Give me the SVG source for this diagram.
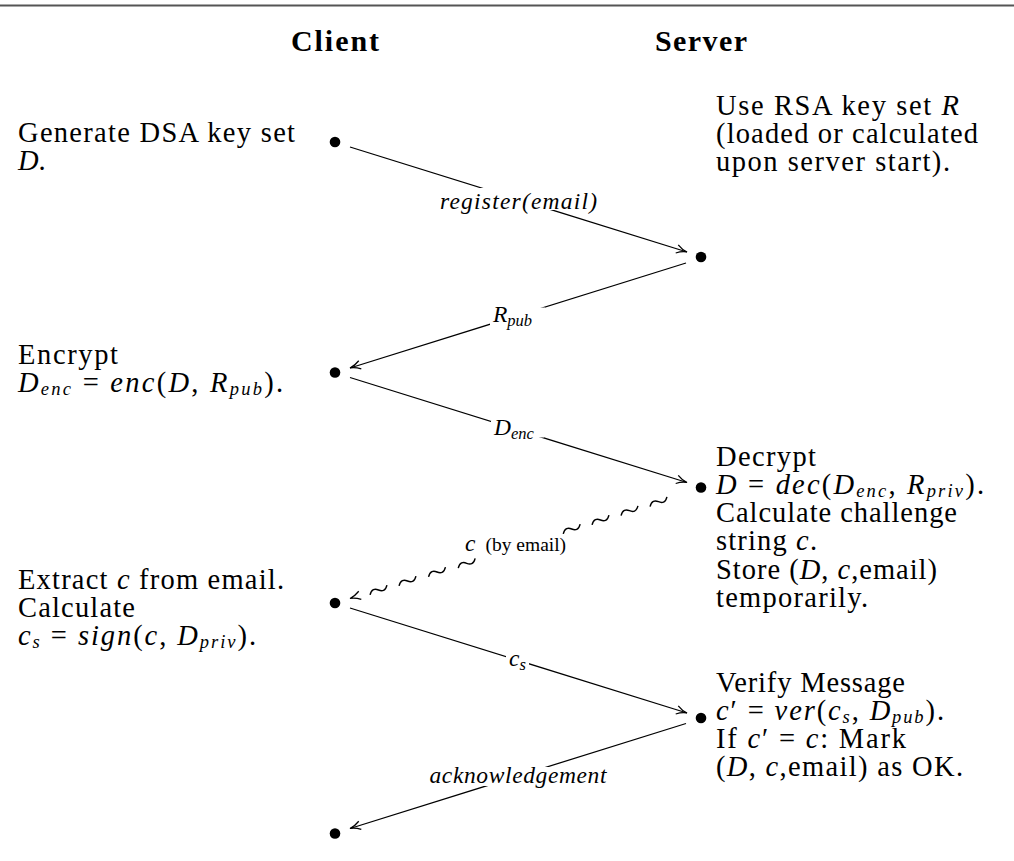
<svg xmlns="http://www.w3.org/2000/svg" xmlns:xlink="http://www.w3.org/1999/xlink" width="1014" height="861" viewBox="0 0 1014 861">
<style>
.t{font-family:"Liberation Serif","Times New Roman",serif;font-size:28.5px;fill:#000}
.h{font-weight:bold;font-size:30px}
.i{font-style:italic}
.s{font-size:18.5px}
.lbl{font-family:"Liberation Serif","Times New Roman",serif;font-size:23.5px;font-style:italic;fill:#000}
.ls{font-size:16.5px}
.rm{font-style:normal;font-size:19.5px}
.conn{stroke:#000;stroke-width:1.25;fill:none}
.tw{stroke:#000;stroke-width:1.4;fill:none}
.dot{fill:#000}
.mask{fill:#fff}
</style>
<defs>
<path id="ahp" class="conn" d="M-10.5,-4.3 C-6.5,-1.6 -2.8,-0.4 0,0 C-2.8,0.4 -6.5,1.6 -10.5,4.3"/>
<path id="tl" class="tw" d="M-9.5,2.2 C-6.5,-3 -3,-2.6 0,0 C3,2.6 6.5,3 9.5,-2.2"/>
<marker id="ah" markerUnits="userSpaceOnUse" orient="auto" refX="0" refY="0" markerWidth="14" markerHeight="12" overflow="visible">
<use xlink:href="#ahp" href="#ahp"/>
</marker>
</defs>
<rect width="1014" height="861" fill="#fff"/>
<line x1="0" y1="5.5" x2="1014" y2="5.5" stroke="#555" stroke-width="2"/>
<g id="headers">
<text class="t h" x="335" y="51" text-anchor="middle" textLength="88">Client</text>
<text class="t h" x="701" y="51" text-anchor="middle" textLength="92">Server</text>
</g>
<g id="connectors">
<line class="conn" x1="350" y1="147" x2="687" y2="252" marker-end="url(#ah)"/>
<rect class="mask" x="439" y="188" width="159" height="22"/>
<text class="lbl" x="518.5" y="208.5" text-anchor="middle" textLength="157">register(email)</text>
<line class="conn" x1="686" y1="263" x2="350" y2="368" marker-end="url(#ah)"/>
<rect class="mask" x="490" y="307.5" width="55" height="18"/>
<text class="lbl" x="493" y="322">R<tspan class="ls" dy="4">pub</tspan></text>
<line class="conn" x1="350" y1="377.5" x2="687" y2="482.5" marker-end="url(#ah)"/>
<rect class="mask" x="491" y="421" width="53" height="16.5"/>
<text class="lbl" x="494" y="435">D<tspan class="ls" dy="4">enc</tspan></text>
<g id="wavy">
<use xlink:href="#tl" href="#tl" transform="translate(658.5,501.7) rotate(-17)"/>
<use xlink:href="#tl" href="#tl" transform="translate(629.5,510.7) rotate(-17)"/>
<use xlink:href="#tl" href="#tl" transform="translate(600.5,520) rotate(-17)"/>
<use xlink:href="#tl" href="#tl" transform="translate(571.7,529) rotate(-17)"/>
<use xlink:href="#tl" href="#tl" transform="translate(466.7,563.3) rotate(-17)"/>
<use xlink:href="#tl" href="#tl" transform="translate(437,572) rotate(-17)"/>
<use xlink:href="#tl" href="#tl" transform="translate(407.5,581) rotate(-17)"/>
<use xlink:href="#tl" href="#tl" transform="translate(378.5,590) rotate(-17)"/>
<use xlink:href="#ahp" href="#ahp" transform="translate(350,598.5) rotate(162.6)"/>
</g>
<text class="lbl" x="465" y="551" font-size="25">c<tspan class="rm" dx="10">(by email)</tspan></text>
<line class="conn" x1="350" y1="608" x2="687" y2="713" marker-end="url(#ah)"/>
<rect class="mask" x="506" y="653" width="23" height="14"/>
<text class="lbl" x="509" y="665.5">c<tspan class="ls" dy="4">s</tspan></text>
<line class="conn" x1="686" y1="723.5" x2="350" y2="828.5" marker-end="url(#ah)"/>
<rect class="mask" x="429" y="767" width="179" height="19"/>
<text class="lbl" x="518" y="783" text-anchor="middle" textLength="177">acknowledgement</text>
</g>
<g id="client1">
<circle class="dot" cx="335" cy="142" r="5.3"/>
<text class="t" x="18" y="141.5" textLength="277">Generate DSA key set</text>
<text class="t" x="18" y="169.5"><tspan class="i">D</tspan>.</text>
</g>
<g id="server1">
<circle class="dot" cx="701" cy="257" r="5.3"/>
<text class="t" x="716" y="114.5" textLength="243">Use RSA key set <tspan class="i">R</tspan></text>
<text class="t" x="716" y="142.5" textLength="262">(loaded or calculated</text>
<text class="t" x="716" y="170.5" textLength="234">upon server start).</text>
</g>
<g id="client2">
<circle class="dot" cx="335" cy="372.5" r="5.3"/>
<text class="t" x="18" y="363.5" textLength="100">Encrypt</text>
<text class="t" x="18" y="391.5" textLength="265"><tspan class="i">D</tspan><tspan class="i s" dy="3.5">enc</tspan><tspan dy="-3.5"> = </tspan><tspan class="i">enc</tspan>(<tspan class="i">D</tspan>, <tspan class="i">R</tspan><tspan class="i s" dy="3.5">pub</tspan><tspan dy="-3.5">).</tspan></text>
</g>
<g id="server2">
<circle class="dot" cx="701" cy="487.5" r="5.3"/>
<text class="t" x="716" y="465.5" textLength="100">Decrypt</text>
<text class="t" x="716" y="493.5" textLength="268"><tspan class="i">D</tspan> = <tspan class="i">dec</tspan>(<tspan class="i">D</tspan><tspan class="i s" dy="3.5">enc</tspan><tspan dy="-3.5">, </tspan><tspan class="i">R</tspan><tspan class="i s" dy="3.5">priv</tspan><tspan dy="-3.5">).</tspan></text>
<text class="t" x="716" y="521.5" textLength="241">Calculate challenge</text>
<text class="t" x="716" y="550" textLength="101">string <tspan class="i">c</tspan>.</text>
<text class="t" x="716" y="578.5" textLength="221">Store (<tspan class="i">D</tspan>, <tspan class="i">c</tspan>,email)</text>
<text class="t" x="716" y="606.5" textLength="152">temporarily.</text>
</g>
<g id="client3">
<circle class="dot" cx="335" cy="603" r="5.3"/>
<text class="t" x="18" y="588.5" textLength="266">Extract <tspan class="i">c</tspan> from email.</text>
<text class="t" x="18" y="616.5" textLength="117">Calculate</text>
<text class="t" x="18" y="644.5" textLength="238"><tspan class="i">c</tspan><tspan class="i s" dy="3.5">s</tspan><tspan dy="-3.5"> = </tspan><tspan class="i">sign</tspan>(<tspan class="i">c</tspan>, <tspan class="i">D</tspan><tspan class="i s" dy="3.5">priv</tspan><tspan dy="-3.5">).</tspan></text>
</g>
<g id="server3">
<circle class="dot" cx="701" cy="718" r="5.3"/>
<text class="t" x="716" y="691.5" textLength="189">Verify Message</text>
<text class="t" x="716" y="719.5" textLength="228"><tspan class="i">c</tspan>′ = <tspan class="i">ver</tspan>(<tspan class="i">c</tspan><tspan class="i s" dy="3.5">s</tspan><tspan dy="-3.5">, </tspan><tspan class="i">D</tspan><tspan class="i s" dy="3.5">pub</tspan><tspan dy="-3.5">).</tspan></text>
<text class="t" x="716" y="747.5" textLength="190">If <tspan class="i">c</tspan>′ = <tspan class="i">c</tspan>:  Mark</text>
<text class="t" x="716" y="775.5" textLength="247">(<tspan class="i">D</tspan>, <tspan class="i">c</tspan>,email) as OK.</text>
</g>
<g id="client4">
<circle class="dot" cx="335" cy="833.5" r="5.3"/>
</g>
</svg>
